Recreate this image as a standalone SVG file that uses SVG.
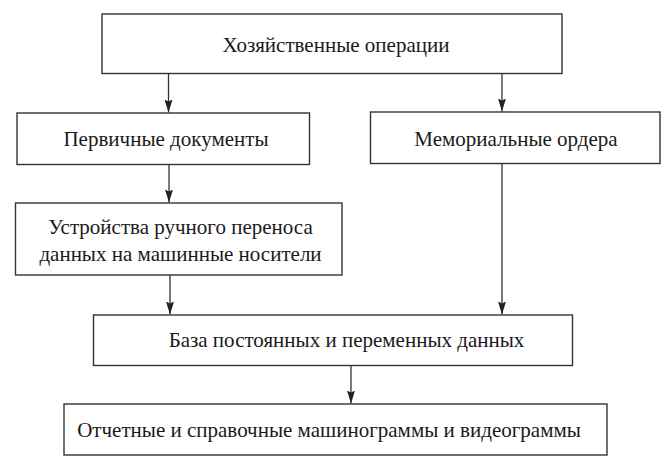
<svg xmlns="http://www.w3.org/2000/svg" width="668" height="476" viewBox="0 0 668 476">
<style>
.box{fill:#fff;stroke:#333;stroke-width:1.4}
.t{font-family:"Liberation Serif","Times New Roman",serif;font-size:21px;fill:#1a1a1a;text-anchor:middle}
.c{stroke:#333;stroke-width:1.3;fill:none;marker-end:url(#ah)}
</style>
<defs>
<marker id="ah" viewBox="0 0 13 8" refX="13" refY="4" markerWidth="13" markerHeight="8" markerUnits="userSpaceOnUse" orient="auto">
<path d="M0,0 L13,4 L0,8 L2,4 Z" fill="#222"/>
</marker>
</defs>
<rect width="668" height="476" fill="#fff"/>
<g id="connectors">
<line class="c" x1="168.5" y1="74" x2="168.5" y2="112.5"/>
<line class="c" x1="502" y1="74" x2="502" y2="111.5"/>
<line class="c" x1="169" y1="164.5" x2="169" y2="202.5"/>
<line class="c" x1="502" y1="164" x2="502" y2="314.5"/>
<line class="c" x1="170" y1="275" x2="170" y2="314.5"/>
<line class="c" x1="351" y1="366" x2="351" y2="403.5"/>
</g>
<g id="n1"><rect class="box" x="102" y="14" width="460" height="59.5"/><text class="t" x="336" y="52">Хозяйственные операции</text></g>
<g id="n2"><rect class="box" x="17" y="113" width="292.5" height="51.5"/><text class="t" x="166" y="146">Первичные документы</text></g>
<g id="n3"><rect class="box" x="370.5" y="112" width="289.5" height="51.5"/><text class="t" x="516" y="146">Мемориальные ордера</text></g>
<g id="n4"><rect class="box" x="15.5" y="203" width="326.5" height="72"/><text class="t" x="180.5" y="234">Устройства ручного переноса</text><text class="t" x="180.5" y="261">данных на машинные носители</text></g>
<g id="n5"><rect class="box" x="93.5" y="315" width="479" height="50.5"/><text class="t" x="346.5" y="347">База постоянных и переменных данных</text></g>
<g id="n6"><rect class="box" x="64" y="404" width="543" height="51"/><text class="t" x="329" y="436.5">Отчетные и справочные машинограммы и видеограммы</text></g>
</svg>
